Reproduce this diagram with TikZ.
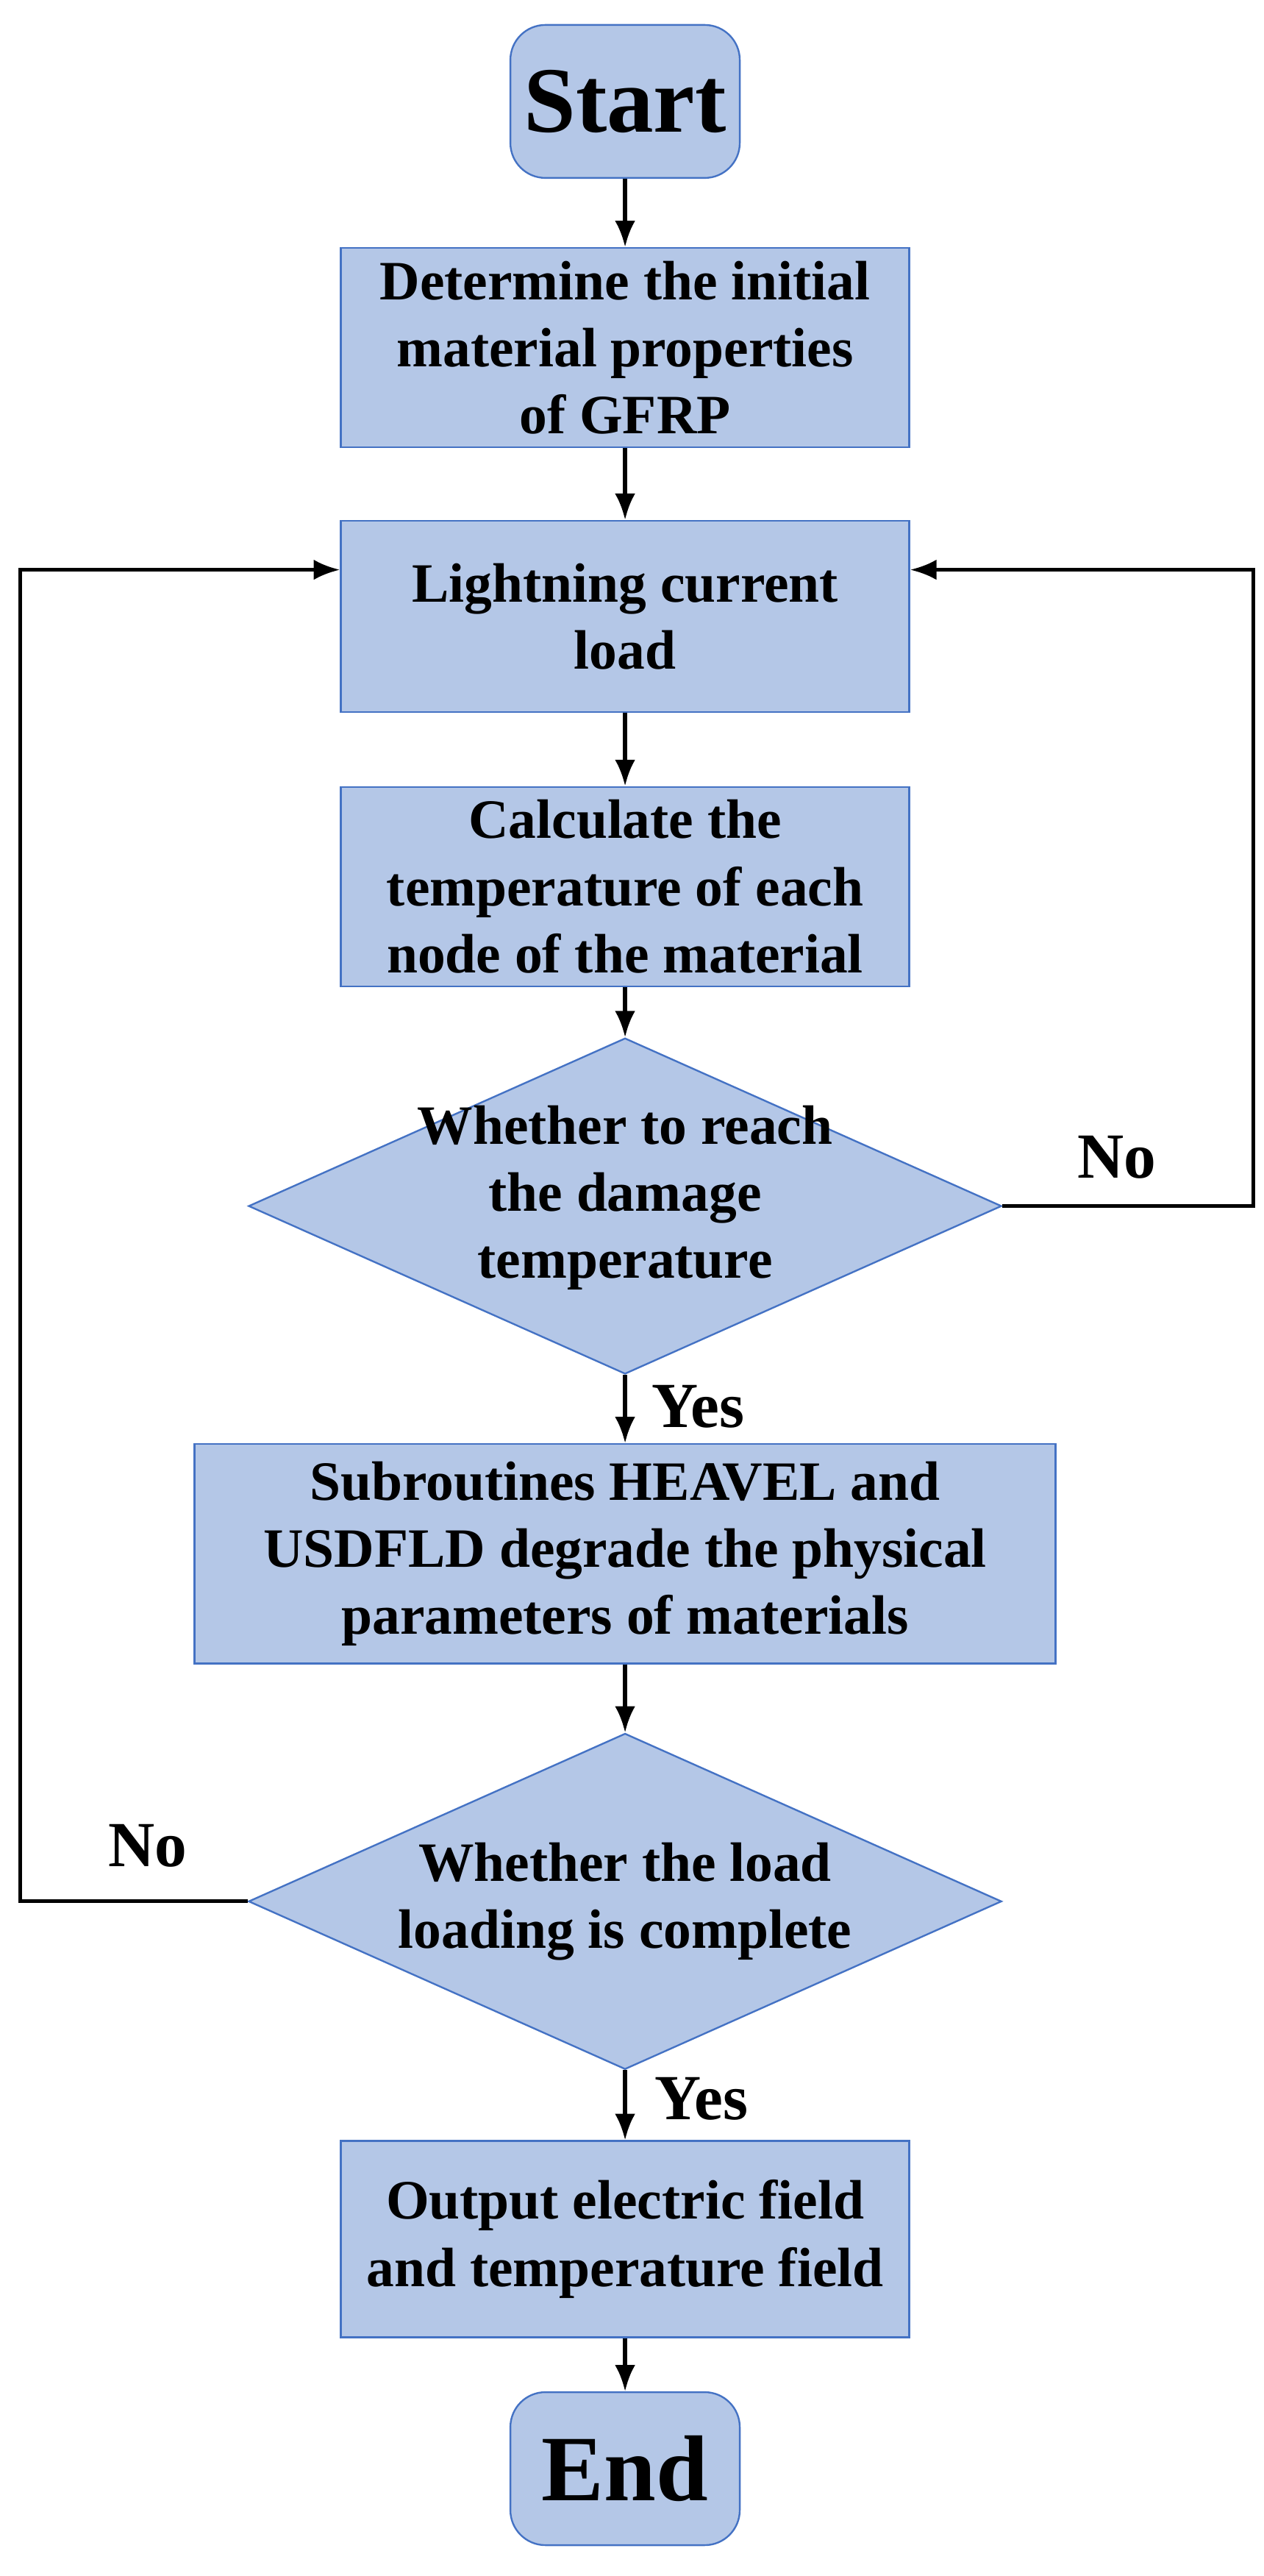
\documentclass[tikz,border=0pt]{standalone}
\usepackage{fontspec}
\setmainfont{Liberation Serif}
\usetikzlibrary{positioning, shapes.geometric, arrows.meta}

\definecolor{boxfill}{HTML}{B4C7E7}
\definecolor{boxline}{HTML}{4472C4}

\tikzset{
    procbox/.style={rectangle, draw=boxline, fill=boxfill, line width=0.6pt, align=center,
        inner sep=0pt, font=\fontsize{19}{23}\selectfont\bfseries},
    term/.style={procbox, rounded corners=12pt, minimum width=2.76cm, minimum height=1.84cm,
        font=\fontsize{32}{36}\selectfont\bfseries},
    test/.style={diamond, draw=boxline, fill=boxfill, line width=0.6pt,
        inner sep=0pt, minimum width=9.06cm, minimum height=4.04cm},
    testtext/.style={align=center, font=\fontsize{19}{23}\selectfont\bfseries},
    flow/.style={line width=1.3pt, -{Latex[length=9pt, width=7pt]}},
    lbl/.style={font=\fontsize{22}{24}\selectfont\bfseries}
}

\begin{document}
\begin{tikzpicture}
            \useasboundingbox (0,0) rectangle (15.2,-30.98);
            \node[term] (start) at (7.52,-1.22) {Start};
            \node[procbox, minimum width=6.84cm, minimum height=2.4cm, below=0.82cm of start] (init) {Determine the initial\\material properties\\of GFRP};
            \node[procbox, minimum width=6.84cm, minimum height=2.3cm, below=0.86cm of init] (load) {Lightning current\\load};
            \node[procbox, minimum width=6.84cm, minimum height=2.4cm, below=0.88cm of load] (temp) {Calculate the\\temperature of each\\node of the material};
            \node[test, below=0.6cm of temp] (reach) {};
            \node[testtext] (reachtxt) at ([yshift=0.1cm]reach.center) {Whether to reach\\the damage\\temperature};
            \node[procbox, minimum width=10.36cm, minimum height=2.64cm, below=0.82cm of reach] (degr) {Subroutines HEAVEL and\\USDFLD degrade the physical\\parameters of materials};
            \node[test, below=0.82cm of degr] (done) {};
            \node[testtext] (donetxt) at (done.center) {Whether the load\\loading is complete};
            \node[procbox, minimum width=6.84cm, minimum height=2.36cm, below=0.84cm of done] (out) {Output electric field\\and temperature field};
            \node[term, below=0.64cm of out] (end) {End};

            \coordinate (rgt) at (15.08,0 |- reach.east);
            \coordinate (lft) at (0.24,0 |- done.west);

            \draw[flow] (start) -- (init);
            \draw[flow] (init) -- (load);
            \draw[flow] (load) -- (temp);
            \draw[flow] (temp) -- (reach);
            \draw[flow] (reach) -- (degr);
            \draw[flow] (degr) -- (done);
            \draw[flow] (done) -- (out);
            \draw[flow] (out) -- (end);

            % loops back to the load step
            \draw[flow] (reach.east) -- (rgt) |- ([yshift=0.56cm]load.east);
            \draw[flow] (done.west) -- (lft) |- ([yshift=0.56cm]load.west);

            \node[lbl] (no1) at (13.44,-13.92) {No};
            \node[lbl] (yes1) at (8.4,-16.92) {Yes};
            \node[lbl] (no2) at (1.78,-22.2) {No};
            \node[lbl] (yes2) at (8.44,-25.24) {Yes};
        \end{tikzpicture}
\end{document}
